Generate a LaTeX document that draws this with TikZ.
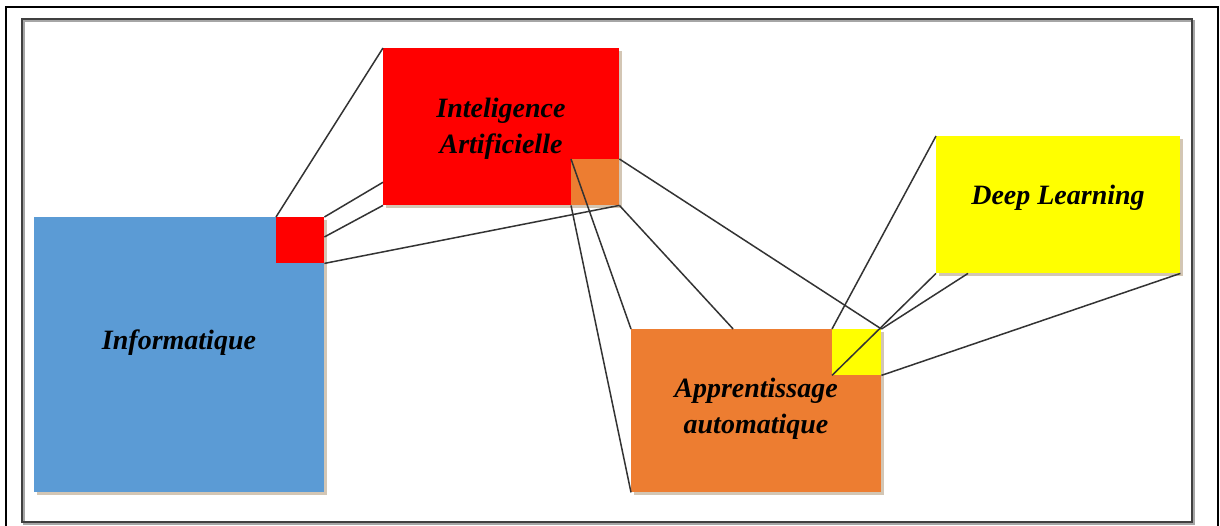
\documentclass[tikz,border=0pt]{standalone}
\usepackage{fontspec}
\setmainfont{Liberation Serif}
\usetikzlibrary{calc,shadows}
\definecolor{infoblue}{HTML}{5B9BD5}
\definecolor{iared}{HTML}{FF0000}
\definecolor{apporange}{HTML}{ED7D31}
\definecolor{dlyellow}{HTML}{FFFF00}
\definecolor{shadowtan}{HTML}{B09878}
\begin{document}
\begin{tikzpicture}[x=1pt,y=-1pt,
  box/.style={draw=none, inner sep=0pt, anchor=north west,
    drop shadow={shadow xshift=2.5pt, shadow yshift=-3pt, fill=shadowtan, opacity=0.55}},
  corner/.style={draw=none, inner sep=0pt},
  lbl/.style={font=\fontsize{28}{34}\selectfont\bfseries\itshape, anchor=base, inner sep=0pt},
  link/.style={draw=black!80, line width=1.5pt}]
\useasboundingbox (0,0) rectangle (1220,525);
\fill[white] (0,0) rectangle (1220,525);
% frames
\draw[line width=2.6pt] (6,7) rectangle (1218,545);
\draw[black!35, line width=1.6pt] (24,21) rectangle (1194,524);
\draw[black!75, line width=1.1pt] (22,19) rectangle (1192,522);
% main boxes
\node[box, fill=infoblue, minimum width=290pt, minimum height=275pt] (info) at (34,217) {};
\node[box, fill=iared, minimum width=236pt, minimum height=157pt] (ia) at (383,48) {};
\node[box, fill=apporange, minimum width=250pt, minimum height=163pt] (app) at (631,329) {};
\node[box, fill=dlyellow, minimum width=244pt, minimum height=137pt] (dl) at (936,136) {};
% small corner squares
\node[corner, fill=iared, minimum width=48pt, minimum height=46pt, anchor=north east] (sia) at (info.north east) {};
\node[corner, fill=apporange, minimum width=48pt, minimum height=46pt, anchor=south east] (sam) at (ia.south east) {};
\node[corner, fill=dlyellow, minimum width=49pt, minimum height=46pt, anchor=north east] (sdl) at (app.north east) {};
% labels
\node[lbl] (tinfo) at (179,349) {Informatique};
\node[lbl] (tia1) at (501,117) {Inteligence};
\node[lbl] (tia2) at (501,153) {Artificielle};
\node[lbl] (tapp1) at (756,397) {Apprentissage};
\node[lbl] (tapp2) at (756,433) {automatique};
\node[lbl] (tdl) at (1058,204) {Deep Learning};
% links
\draw[link] (sia.north west) -- (ia.north west);
\draw[link] (sia.north east) -- ($(ia.north west)!0.853!(ia.south west)$);
\draw[link] ($(sia.north east)!0.43!(sia.south east)$) -- (ia.south west);
\draw[link] (sia.south east) -- (ia.south east);
\draw[link] (sam.north west) -- (app.north west);
\draw[link] (sam.south west) -- (app.south west);
\draw[link] (sam.south east) -- ($(app.north west)!0.408!(app.north east)$);
\draw[link] (sam.north east) -- (app.north east);
\draw[link] (sdl.north west) -- (dl.north west);
\draw[link] (sdl.south west) -- (dl.south west);
\draw[link] (sdl.north east) -- ($(dl.south west)!0.131!(dl.south east)$);
\draw[link] (sdl.south east) -- (dl.south east);
\end{tikzpicture}
\end{document}
